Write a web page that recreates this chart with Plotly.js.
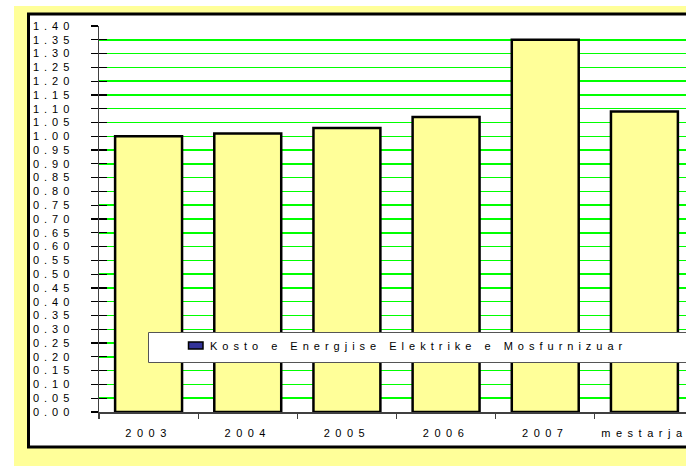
<!DOCTYPE html>
<html>
<head>
<meta charset="utf-8">
<script src="https://cdn.plot.ly/plotly-3.0.1.min.js"></script>
<style>
html, body { margin:0; padding:0; background:#ffffff; overflow:hidden; width:686px; height:466px; }
#chart { width:720px; height:466px; }
.xtick text { letter-spacing:5.5px !important; }
.ytick text { letter-spacing:5px !important; }
.annotation text { letter-spacing:5px !important; }
</style>
</head>
<body>
<div id="chart"></div>
<script>
// ---- data ----
const categories = ['2003', '2004', '2005', '2006', '2007', 'mestarja'];
const costValues = [1.00, 1.01, 1.03, 1.07, 1.35, 1.09];
const seriesName = 'Kosto e Energjise Elektrike e Mosfurnizuar';
const yTickValues = [0.00, 0.05, 0.10, 0.15, 0.20, 0.25, 0.30, 0.35, 0.40, 0.45, 0.50, 0.55, 0.60, 0.65,
                     0.70, 0.75, 0.80, 0.85, 0.90, 0.95, 1.00, 1.05, 1.10, 1.15, 1.20, 1.25, 1.30, 1.35, 1.40];
const yTickLabels = yTickValues.map(v => v.toFixed(2));

// ---- layout geometry (pixels) ----
const W = 720, H = 466;
const M = {l: 99, r: 26, t: 26, b: 54};
const PW = W - M.l - M.r, PH = H - M.t - M.b;
const px = x => (x - M.l) / PW;
const py = y => (H - M.b - y) / PH;

const font = 'Liberation Sans, Arial, sans-serif';

const traces = [
  {
    type: 'bar', x: categories, y: costValues, name: seriesName,
    marker: {color: '#FFFF99', line: {color: '#000000', width: 2.5}},
    showlegend: false, hoverinfo: 'x+y'
  },
  {
    type: 'scatter', mode: 'markers', x: categories, y: costValues, yaxis: 'y2',
    marker: {opacity: 0}, showlegend: false, hoverinfo: 'skip'
  }
];

const layout = {
  width: W, height: H,
  margin: M,
  paper_bgcolor: '#ffffff',
  plot_bgcolor: '#ffffff',
  font: {family: font, size: 11, color: '#000000'},
  bargap: 0.325,
  showlegend: false,
  xaxis: {
    type: 'category', range: [-0.5, 5.5],
    showline: true, linecolor: '#404040', linewidth: 1.5,
    ticks: 'outside', tickson: 'boundaries', ticklen: 5, tickcolor: '#404040', tickwidth: 1.2,
    showgrid: false, zeroline: false,
    tickfont: {family: font, size: 11, color: '#000000'},
    ticklabelstandoff: 10
  },
  yaxis: {
    range: [0, 1.40], tickmode: 'array', tickvals: yTickValues, ticktext: yTickLabels,
    showline: true, linecolor: '#404040', linewidth: 1.5,
    ticks: 'outside', ticklen: 7, tickcolor: '#000000', tickwidth: 1.2,
    showgrid: true, gridcolor: '#00FF00', gridwidth: 1.5,
    zeroline: false,
    tickfont: {family: font, size: 11, color: '#000000'},
    ticklabelstandoff: 14
  },
  yaxis2: {
    overlaying: 'y', matches: 'y', anchor: 'x', side: 'left',
    tickmode: 'array', tickvals: yTickValues,
    ticks: 'inside', ticklen: 8, tickcolor: '#000000', tickwidth: 1.2,
    showticklabels: false, showgrid: false, zeroline: false, showline: false
  },
  shapes: [
    {type: 'rect', xref: 'paper', yref: 'paper', layer: 'below',
     x0: px(14), x1: px(760), y0: py(6), y1: py(480),
     fillcolor: '#FFFF99', line: {width: 0}},
    {type: 'rect', xref: 'paper', yref: 'paper', layer: 'below',
     x0: px(28.5), x1: px(760), y0: py(14), y1: py(447),
     fillcolor: '#ffffff', line: {color: '#000000', width: 3}},
    {type: 'rect', xref: 'paper', yref: 'paper', layer: 'above',
     x0: px(148.5), x1: px(760), y0: py(332.5), y1: py(362.5),
     fillcolor: '#ffffff', line: {color: '#555555', width: 1}},
    {type: 'rect', xref: 'paper', yref: 'paper', layer: 'above',
     x0: px(188.5), x1: px(203), y0: py(342), y1: py(349),
     fillcolor: '#333399', line: {color: '#000000', width: 1.5}}
  ],
  annotations: [
    {xref: 'paper', yref: 'paper', x: px(419), y: py(345.5), xanchor: 'center', yanchor: 'middle',
     text: seriesName, showarrow: false, font: {family: font, size: 11, color: '#000000'}}
  ]
};

Plotly.newPlot('chart', traces, layout, {displayModeBar: false, staticPlot: true});
</script>
</body>
</html>
